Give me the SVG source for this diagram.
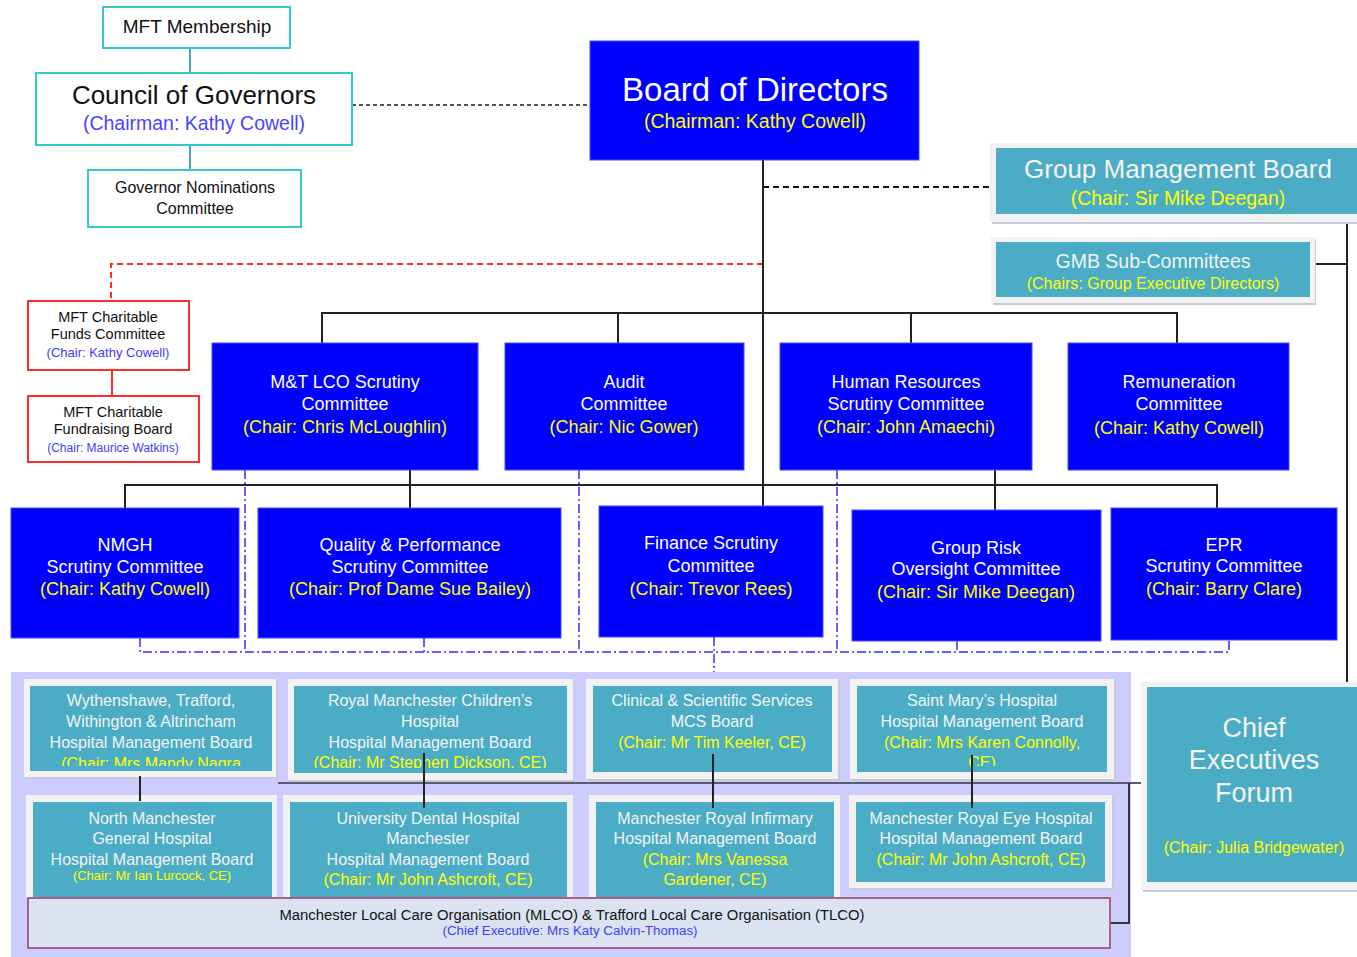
<svg xmlns="http://www.w3.org/2000/svg" width="1357" height="957" viewBox="0 0 1357 957">
<style>
text{font-family:"Liberation Sans",Arial,sans-serif;text-anchor:middle}
.cy{fill:#fff;stroke:#33cccc;stroke-width:2}
.bl{fill:#0000ff;stroke:#4a4aff;stroke-width:1}
.rd{fill:#fff;stroke:#ff2a2a;stroke-width:2}
.fr{fill:#f2f2f2}
.sh{fill:#c9c9d6}
.tl{fill:#4bacc6}
.w{fill:#fff}
.wh{fill:#f4f4f4}
.y{fill:#ffff00}
.k{fill:#111}
.pb{fill:#3d3dff}
.ln{stroke:#222;stroke-width:2;fill:none}
.ddb{stroke:#6262ff;stroke-width:2;fill:none;stroke-dasharray:9 3 2 3}
.f18{font-size:18px}
.f16{font-size:16px}
</style>
<defs>
<clipPath id="c1"><rect x="30" y="686" width="242" height="80"/></clipPath>
<clipPath id="c2"><rect x="294" y="686" width="273" height="82"/></clipPath>
<clipPath id="c4"><rect x="857" y="686" width="250" height="80"/></clipPath>
</defs>

<!-- hospital container -->
<rect x="11" y="672" width="1120" height="285" fill="#ccccff"/>

<g id="connectors">
<line x1="190" y1="48" x2="190" y2="73" stroke="#4aa6b0" stroke-width="2"/>
<line x1="190" y1="145" x2="190" y2="170" stroke="#4aa6b0" stroke-width="2"/>
<line x1="352" y1="105" x2="590" y2="105" stroke="#555" stroke-width="2" stroke-dasharray="4 3"/>
<line x1="763" y1="187" x2="993" y2="187" stroke="#111" stroke-width="2" stroke-dasharray="6 4"/>
<polyline points="763,264 111,264 111,300" fill="none" stroke="#ff2a2a" stroke-width="2" stroke-dasharray="6 4"/>
<line x1="112" y1="370" x2="112" y2="396" stroke="#ff2a2a" stroke-width="2"/>
<line class="ln" x1="763" y1="160" x2="763" y2="506"/>
<polyline class="ln" points="322,343 322,313 1177,313 1177,343"/>
<line class="ln" x1="618" y1="313" x2="618" y2="343"/>
<line class="ln" x1="911" y1="313" x2="911" y2="343"/>
<polyline class="ln" points="125,508 125,485 1217,485 1217,508"/>
<line class="ln" x1="410" y1="470" x2="410" y2="508"/>
<line class="ln" x1="995" y1="470" x2="995" y2="510"/>
<polyline class="ln" points="1310,264 1347,264"/>
<line class="ln" x1="1347" y1="218" x2="1347" y2="684"/>
<!-- blue dash-dot -->
<line class="ddb" x1="245" y1="470" x2="245" y2="652"/>
<line class="ddb" x1="579" y1="470" x2="579" y2="652"/>
<line class="ddb" x1="837" y1="470" x2="837" y2="652"/>
<polyline class="ddb" points="140,638 140,652 1229,652 1229,640"/>
<line class="ddb" x1="424" y1="638" x2="424" y2="652"/>
<line class="ddb" x1="714" y1="637" x2="714" y2="672"/>
<line class="ddb" x1="957" y1="641" x2="957" y2="652"/>
</g>

<g id="mft-membership"><rect class="cy" x="103" y="7" width="187" height="41"/><text x="197" y="33" font-size="19" class="k">MFT Membership</text></g>
<g id="council-of-governors"><rect class="cy" x="36" y="73" width="316" height="72"/><text x="194" y="104" font-size="26" class="k">Council of Governors</text><text x="194" y="130" font-size="19.5" fill="#4646ff">(Chairman: Kathy Cowell)</text></g>
<g id="governor-nominations"><rect class="cy" x="88" y="170" width="213" height="57"/><text x="195" y="193" class="f16 k">Governor Nominations</text><text x="195" y="214" class="f16 k">Committee</text></g>

<g id="board-of-directors"><rect class="bl" x="590" y="41" width="329" height="119"/><text x="755" y="101" font-size="33" class="w">Board of Directors</text><text x="755" y="128" font-size="19.5" class="y">(Chairman: Kathy Cowell)</text></g>

<g id="group-management-board"><rect class="sh" x="992" y="145" width="365" height="79"/><rect class="fr" x="990" y="143" width="367" height="79"/><rect class="tl" x="996" y="148" width="361" height="66"/><text x="1178" y="178" font-size="26" class="wh">Group Management Board</text><text x="1178" y="205" font-size="19.5" class="y">(Chair: Sir Mike Deegan)</text></g>
<g id="gmb-sub-committees"><rect class="sh" x="993" y="239" width="323" height="66"/><rect class="fr" x="991" y="237" width="324" height="66"/><rect class="tl" x="996" y="242" width="314" height="55"/><text x="1153" y="268" font-size="19.5" class="wh">GMB Sub-Committees</text><text x="1153" y="289" font-size="16" class="y">(Chairs: Group Executive Directors)</text></g>

<g id="charitable-funds"><rect class="rd" x="28" y="301" width="161" height="69"/><text x="108" y="322" font-size="14.5" class="k">MFT Charitable</text><text x="108" y="339" font-size="14.5" class="k">Funds Committee</text><text x="108" y="357" font-size="13" class="pb">(Chair: Kathy Cowell)</text></g>
<g id="charitable-fundraising"><rect class="rd" x="28" y="396" width="171" height="66"/><text x="113" y="417" font-size="14.5" class="k">MFT Charitable</text><text x="113" y="434" font-size="14.5" class="k">Fundraising Board</text><text x="113" y="452" font-size="12" class="pb">(Chair: Maurice Watkins)</text></g>

<g id="mt-lco"><rect class="bl" x="212" y="343" width="266" height="127"/><text x="345" y="388" class="f18 w">M&amp;T LCO Scrutiny</text><text x="345" y="410" class="f18 w">Committee</text><text x="345" y="433" class="f18 y">(Chair: Chris McLoughlin)</text></g>
<g id="audit"><rect class="bl" x="505" y="343" width="239" height="127"/><text x="624" y="388" class="f18 w">Audit</text><text x="624" y="410" class="f18 w">Committee</text><text x="624" y="433" class="f18 y">(Chair: Nic Gower)</text></g>
<g id="human-resources"><rect class="bl" x="780" y="343" width="252" height="127"/><text x="906" y="388" class="f18 w">Human Resources</text><text x="906" y="410" class="f18 w">Scrutiny Committee</text><text x="906" y="433" class="f18 y">(Chair: John Amaechi)</text></g>
<g id="remuneration"><rect class="bl" x="1068" y="343" width="221" height="127"/><text x="1179" y="388" class="f18 w">Remuneration</text><text x="1179" y="410" class="f18 w">Committee</text><text x="1179" y="434" class="f18 y">(Chair: Kathy Cowell)</text></g>

<g id="nmgh"><rect class="bl" x="11" y="508" width="228" height="130"/><text x="125" y="551" class="f18 w">NMGH</text><text x="125" y="573" class="f18 w">Scrutiny Committee</text><text x="125" y="595" class="f18 y">(Chair: Kathy Cowell)</text></g>
<g id="quality-performance"><rect class="bl" x="258" y="508" width="303" height="130"/><text x="410" y="551" class="f18 w">Quality &amp; Performance</text><text x="410" y="573" class="f18 w">Scrutiny Committee</text><text x="410" y="595" class="f18 y">(Chair: Prof Dame Sue Bailey)</text></g>
<g id="finance"><rect class="bl" x="599" y="506" width="224" height="131"/><text x="711" y="549" class="f18 w">Finance Scrutiny</text><text x="711" y="572" class="f18 w">Committee</text><text x="711" y="595" class="f18 y">(Chair: Trevor Rees)</text></g>
<g id="group-risk"><rect class="bl" x="852" y="510" width="249" height="131"/><text x="976" y="554" class="f18 w">Group Risk</text><text x="976" y="575" class="f18 w">Oversight Committee</text><text x="976" y="598" class="f18 y">(Chair: Sir Mike Deegan)</text></g>
<g id="epr"><rect class="bl" x="1111" y="508" width="226" height="132"/><text x="1224" y="551" class="f18 w">EPR</text><text x="1224" y="572" class="f18 w">Scrutiny Committee</text><text x="1224" y="595" class="f18 y">(Chair: Barry Clare)</text></g>

<g id="hospital-links">
<line x1="278" y1="783" x2="1141" y2="783" stroke="#5a5a70" stroke-width="2"/>
<polyline points="1111,923 1129,923 1129,783" fill="none" stroke="#333" stroke-width="2"/>
</g>

<g id="wythenshawe"><rect class="sh" x="26" y="681" width="252" height="98"/><rect class="fr" x="24" y="679" width="252" height="98"/><rect class="tl" x="30" y="686" width="242" height="85"/><g clip-path="url(#c1)"><text x="151" y="706" class="f16 wh">Wythenshawe, Trafford,</text><text x="151" y="727" class="f16 wh">Withington &amp; Altrincham</text><text x="151" y="748" class="f16 wh">Hospital Management Board</text><text x="151" y="769" class="f16 y">(Chair: Mrs Mandy Nagra</text></g></g>
<g id="rmch"><rect class="sh" x="290" y="681" width="284" height="101"/><rect class="fr" x="288" y="679" width="285" height="101"/><rect class="tl" x="294" y="686" width="273" height="87"/><g clip-path="url(#c2)"><text x="430" y="706" class="f16 wh">Royal Manchester Children’s</text><text x="430" y="727" class="f16 wh">Hospital</text><text x="430" y="748" class="f16 wh">Hospital Management Board</text><text x="430" y="768" class="f16 y">(Chair: Mr Stephen Dickson, CE)</text></g></g>
<g id="clinical-scientific"><rect class="sh" x="588" y="681" width="252" height="100"/><rect class="fr" x="586" y="679" width="252" height="100"/><rect class="tl" x="593" y="686" width="239" height="86"/><text x="712" y="706" class="f16 wh">Clinical &amp; Scientific Services</text><text x="712" y="727" class="f16 wh">MCS Board</text><text x="712" y="748" class="f16 y">(Chair: Mr Tim Keeler, CE)</text></g>
<g id="saint-marys"><rect class="sh" x="852" y="681" width="264" height="100"/><rect class="fr" x="850" y="679" width="264" height="100"/><rect class="tl" x="857" y="686" width="250" height="86"/><g clip-path="url(#c4)"><text x="982" y="706" class="f16 wh">Saint Mary’s Hospital</text><text x="982" y="727" class="f16 wh">Hospital Management Board</text><text x="982" y="748" class="f16 y">(Chair: Mrs Karen Connolly,</text><text x="982" y="768" class="f16 y">CE)</text></g></g>

<g id="north-manchester"><rect class="fr" x="26" y="795" width="251" height="102"/><rect class="tl" x="33" y="802" width="239" height="95"/><text x="152" y="824" class="f16 wh">North Manchester</text><text x="152" y="844" class="f16 wh">General Hospital</text><text x="152" y="865" class="f16 wh">Hospital Management Board</text><text x="152" y="880" font-size="13" class="y">(Chair: Mr Ian Lurcock, CE)</text></g>
<g id="university-dental"><rect class="fr" x="283" y="795" width="290" height="102"/><rect class="tl" x="290" y="802" width="277" height="95"/><text x="428" y="824" class="f16 wh">University Dental Hospital</text><text x="428" y="844" class="f16 wh">Manchester</text><text x="428" y="865" class="f16 wh">Hospital Management Board</text><text x="428" y="885" class="f16 y">(Chair: Mr John Ashcroft, CE)</text></g>
<g id="mri"><rect class="fr" x="589" y="795" width="251" height="102"/><rect class="tl" x="596" y="802" width="238" height="95"/><text x="715" y="824" class="f16 wh">Manchester Royal Infirmary</text><text x="715" y="844" class="f16 wh">Hospital Management Board</text><text x="715" y="865" class="f16 y">(Chair: Mrs Vanessa</text><text x="715" y="885" class="f16 y">Gardener, CE)</text></g>
<g id="mreh"><rect class="sh" x="851" y="797" width="263" height="93"/><rect class="fr" x="849" y="795" width="263" height="93"/><rect class="tl" x="856" y="802" width="249" height="80"/><text x="981" y="824" class="f16 wh">Manchester Royal Eye Hospital</text><text x="981" y="844" class="f16 wh">Hospital Management Board</text><text x="981" y="865" class="f16 y">(Chair: Mr John Ashcroft, CE)</text></g>

<g id="hospital-connectors">
<line class="ln" x1="140" y1="776" x2="140" y2="801"/>
<line class="ln" x1="424" y1="753" x2="424" y2="808"/>
<line class="ln" x1="713" y1="754" x2="713" y2="808"/>
<line class="ln" x1="972" y1="755" x2="972" y2="808"/>
</g>

<g id="mlco"><rect x="28" y="898" width="1082" height="50" fill="#dbe3f1" stroke="#9b3a66" stroke-width="1.5"/><text x="572" y="920" font-size="14" class="k" textLength="585" lengthAdjust="spacingAndGlyphs">Manchester Local Care Organisation (MLCO) &amp; Trafford Local Care Organisation (TLCO)</text><text x="570" y="935" font-size="12" class="pb" textLength="255" lengthAdjust="spacingAndGlyphs">(Chief Executive:  Mrs Katy Calvin-Thomas)</text></g>

<g id="chief-executives-forum"><rect class="sh" x="1143" y="685" width="214" height="207"/><rect class="fr" x="1141" y="682" width="216" height="208"/><rect class="tl" x="1147" y="687" width="210" height="195"/><text x="1254" y="737" font-size="27" class="wh">Chief</text><text x="1254" y="769" font-size="27" class="wh">Executives</text><text x="1254" y="802" font-size="27" class="wh">Forum</text><text x="1254" y="853" font-size="16" class="y">(Chair: Julia Bridgewater)</text></g>
</svg>
